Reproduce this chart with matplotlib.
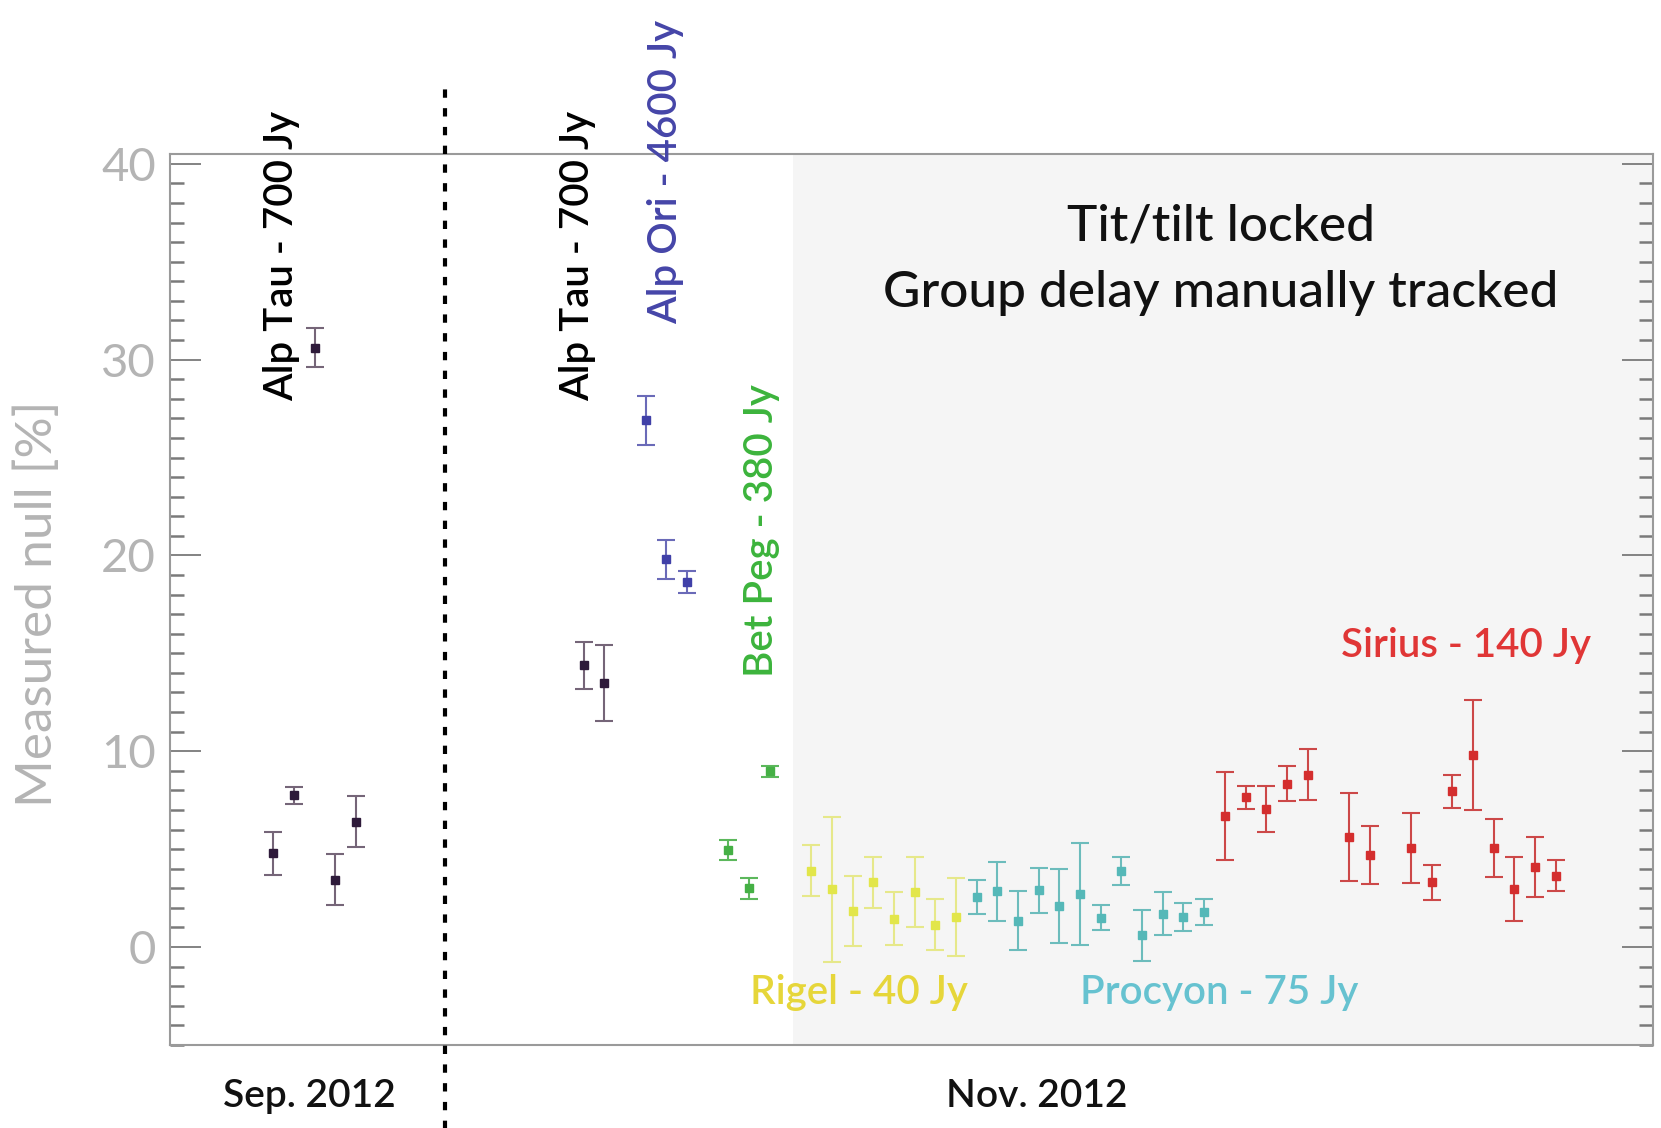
import matplotlib
matplotlib.use("Agg")
import matplotlib.pyplot as plt
import matplotlib.transforms as mtransforms
from matplotlib.ticker import MultipleLocator, NullLocator

# observation index, measured null [%] and 1-sigma error for each target
sep_tau_x = [5, 6, 7, 8, 9]
sep_tau_y = [4.8, 7.75, 30.6, 3.45, 6.4]
sep_tau_err = [1.1, 0.42, 1.0, 1.3, 1.3]

nov_tau_x = [20, 21]
nov_tau_y = [14.4, 13.5]
nov_tau_err = [1.2, 1.95]

ori_x = [23, 24, 25]
ori_y = [26.9, 19.8, 18.65]
ori_err = [1.25, 1.0, 0.55]

peg_x = [27, 28, 29]
peg_y = [4.95, 3.0, 8.97]
peg_err = [0.5, 0.55, 0.3]

rigel_x = [31, 32, 33, 34, 35, 36, 37, 38]
rigel_y = [3.9, 2.95, 1.85, 3.3, 1.45, 2.8, 1.15, 1.55]
rigel_err = [1.3, 3.7, 1.8, 1.3, 1.35, 1.8, 1.3, 2.0]

procyon_x = [39, 40, 41, 42, 43, 44, 45, 46, 47, 48, 49, 50]
procyon_y = [2.55, 2.85, 1.35, 2.9, 2.1, 2.7, 1.5, 3.9, 0.6, 1.7, 1.55, 1.8]
procyon_err = [0.87, 1.5, 1.5, 1.15, 1.9, 2.6, 0.63, 0.72, 1.3, 1.1, 0.72, 0.67]

sirius_x = [51, 52, 53, 54, 55, 57, 58, 60, 61, 62, 63, 64, 65, 66, 67]
sirius_y = [6.7, 7.65, 7.05, 8.35, 8.8, 5.6, 4.7, 5.05, 3.3, 7.95, 9.8, 5.05, 2.95, 4.1, 3.65]
sirius_err = [2.25, 0.6, 1.17, 0.88, 1.3, 2.25, 1.5, 1.8, 0.88, 0.86, 2.8, 1.47, 1.63, 1.52, 0.8]

separator_x = 13.3      # Sep / Nov boundary
locked_start = 30.1     # start of the tip/tilt locked period

plt.rcParams['font.family'] = ['Lato', 'DejaVu Sans']

fig = plt.figure(figsize=(16.61, 11.28), dpi=100)
ax = fig.add_axes([0.1023, 0.0736, 0.8929, 0.7899])

ax.set_xlim(0, 71.7)
ax.set_ylim(-5, 40.5)

# shaded region
ax.axvspan(locked_start, 71.7, color='#f5f5f5', zorder=0, lw=0)

groups = [
    (sep_tau_x, sep_tau_y, sep_tau_err, '#2e1a3a', '#756578'),
    (nov_tau_x, nov_tau_y, nov_tau_err, '#2e1a3a', '#756578'),
    (ori_x, ori_y, ori_err, '#4040a8', '#6a6ab8'),
    (peg_x, peg_y, peg_err, '#45b045', '#5cb85c'),
    (rigel_x, rigel_y, rigel_err, '#e2e64a', '#e6e88a'),
    (procyon_x, procyon_y, procyon_err, '#55b8b8', '#6cbcbc'),
    (sirius_x, sirius_y, sirius_err, '#d42e2e', '#cc4848'),
]
for xs, ys, es, mc, ec in groups:
    ax.errorbar(xs, ys, yerr=es, fmt='s', ms=6, color=mc, ecolor=ec,
                elinewidth=1.5, capsize=6.5, capthick=1.5, zorder=3)

# dashed separator running beyond the axes
ax.axvline(separator_x, ymin=-0.095, ymax=1.078, color='black', lw=3,
           ls=(0, (2, 2.5)), clip_on=False, zorder=4)

# axis styling
for sp in ax.spines.values():
    sp.set_color('#9a9a9a')
    sp.set_linewidth(1.5)
ax.xaxis.set_major_locator(NullLocator())
ax.yaxis.set_major_locator(MultipleLocator(10))
ax.yaxis.set_minor_locator(MultipleLocator(1))
ax.tick_params(axis='y', which='both', direction='in', left=True, right=True,
               colors='#7a7a7a', labelcolor='#b4b4b4')
ax.tick_params(axis='y', which='major', length=22, width=1.3, pad=10,
               labelsize=34)
ax.tick_params(axis='y', which='minor', length=10, width=1.8)

fig.text(38 / 1661, 1 - 604 / 1128, 'Measured null [%]', rotation=90,
         ha='center', va='center', fontsize=37, color='#b4b4b4')

# target labels
lab_kw = dict(rotation=90, ha='center', va='bottom', fontsize=29,
              fontweight='semibold')
ax.text(5.4, 27.9, 'Alp Tau - 700 Jy', color='black', **lab_kw)
ax.text(19.7, 27.9, 'Alp Tau - 700 Jy', color='black', **lab_kw)
ax.text(23.95, 31.8, 'Alp Ori - 4600 Jy', color='#4545a8', **lab_kw)
ax.text(28.6, 13.8, 'Bet Peg - 380 Jy', color='#3cb43c', **lab_kw)

ax.text(28.06, -2.3, 'Rigel - 40 Jy', color='#e6d63a', fontsize=29,
        fontweight='semibold', ha='left', va='center')
ax.text(44.0, -2.3, 'Procyon - 75 Jy', color='#66c2d0', fontsize=29,
        fontweight='semibold', ha='left', va='center')
ax.text(56.6, 15.4, 'Sirius - 140 Jy', color='#e03636', fontsize=29,
        fontweight='semibold', ha='left', va='center')

ax.text(50.8, 36.8, 'Tit/tilt locked', color='#111111', fontsize=37,
        fontweight='medium', ha='center', va='center')
ax.text(50.8, 33.4, 'Group delay manually tracked', color='#111111',
        fontsize=37, fontweight='medium', ha='center', va='center')

# period labels below the axis
trans = mtransforms.blended_transform_factory(ax.transData, ax.transAxes)
ax.text(6.74, -0.057, 'Sep. 2012', transform=trans, ha='center',
        va='center', fontsize=28, fontweight='semibold', color='#111111')
ax.text(41.9, -0.057, 'Nov. 2012', transform=trans, ha='center',
        va='center', fontsize=28, fontweight='semibold', color='#111111')

fig.savefig('out.png', dpi=100)
